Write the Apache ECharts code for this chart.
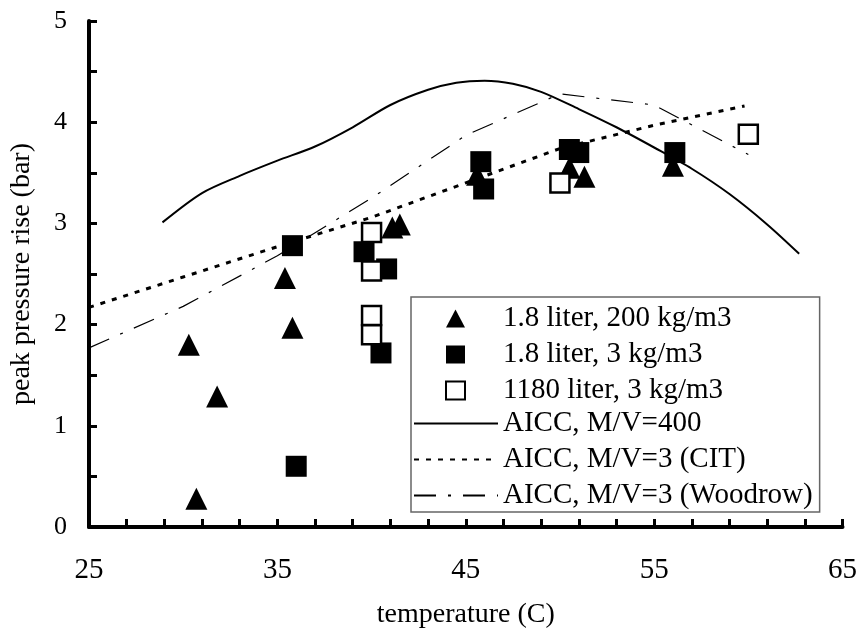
<!DOCTYPE html>
<html>
<head>
<meta charset="utf-8">
<script src="https://cdn.jsdelivr.net/npm/echarts@6/dist/echarts.min.js"></script>
<style>
  body { margin: 0; background: #fff; }
  #chart { width: 860px; height: 634px; }
</style>
</head>
<body>
<div id="chart"></div>
<script>
// [temperature (C), peak pressure rise (bar)]
var liter18Kg200 = [
  [30.3, 1.80], [31.8, 1.29], [30.7, 0.28], [35.8, 1.97], [35.4, 2.46],
  [41.1, 2.96], [41.5, 2.99], [45.6, 3.48], [50.5, 3.55], [51.3, 3.46], [56.0, 3.57]
]
var liter18Kg3 = [
  [35.8, 2.78], [36.0, 0.60], [39.6, 2.72], [40.8, 2.55], [40.5, 1.72],
  [45.8, 3.61], [45.95, 3.34], [50.5, 3.73], [51.0, 3.70], [56.1, 3.70]
]
var liter1180Kg3 = [
  [40.0, 2.91], [40.0, 2.53], [40.0, 2.09], [40.0, 1.90], [50.0, 3.40], [60.0, 3.88]
]
var aicc400 = [
  [28.9, 3.01], [31, 3.30], [33, 3.47], [35, 3.62], [37, 3.76], [39, 3.95],
  [41, 4.17], [43, 4.32], [44.5, 4.39], [46, 4.41], [47.5, 4.38], [49, 4.30], [51, 4.13],
  [53, 3.95], [55, 3.75], [57, 3.54], [59, 3.29], [61, 2.99], [62.7, 2.70]
]
var aiccCit = [
  [25, 2.17], [30, 2.47], [35, 2.77], [40, 3.06], [45, 3.40], [50, 3.74], [55, 3.97], [59.8, 4.16]
]
var aiccWoodrow = [
  [25, 1.77], [30, 2.18], [35, 2.68], [40, 3.25], [45, 3.87], [50, 4.28], [55, 4.17], [60, 3.68]
]
var seriesNames = [
  '1.8 liter, 200 kg/m3',
  '1.8 liter, 3 kg/m3',
  '1180 liter, 3 kg/m3',
  'AICC, M/V=400',
  'AICC, M/V=3 (CIT)',
  'AICC, M/V=3 (Woodrow)'
]

var serif = "'Liberation Serif', 'Times New Roman', serif"

var chart = echarts.init(document.getElementById('chart'))

function axisStyle() {
  return {
    axisLine: { lineStyle: { color: '#000', width: 4 } },
    axisTick: { inside: true, length: 8, lineStyle: { color: '#000', width: 3 } },
    minorTick: { show: true, length: 8, lineStyle: { color: '#000', width: 3 } },
    splitLine: { show: false },
    minorSplitLine: { show: false },
    nameTextStyle: { fontFamily: serif, fontSize: 28, color: '#000' }
  }
}

var xAxis = Object.assign(axisStyle(), {
  type: 'value',
  min: 25,
  max: 65,
  interval: 10,
  name: 'temperature (C)',
  nameLocation: 'middle',
  nameGap: 74,
  axisLabel: { margin: 29, fontFamily: serif, fontSize: 29, color: '#000' }
})
xAxis.minorTick.splitNumber = 5

var yAxis = Object.assign(axisStyle(), {
  type: 'value',
  min: 0,
  max: 5,
  interval: 1,
  name: 'peak pressure rise (bar)',
  nameLocation: 'middle',
  nameGap: 53,
  axisLabel: { margin: 22, fontFamily: serif, fontSize: 26, color: '#000' }
})
yAxis.minorTick.splitNumber = 2

var legendText = { fontFamily: serif, fontSize: 29, color: '#000' }

chart.setOption({
  animation: false,
  backgroundColor: '#fff',
  grid: { left: 89, right: 17, top: 21, bottom: 102 },
  xAxis: xAxis,
  yAxis: yAxis,
  legend: [
    // the curve entries; its tall top padding makes the frame hold the marker rows too
    {
      orient: 'vertical',
      left: 411,
      top: 297,
      padding: [112, 7, 2, 2],
      itemWidth: 84,
      itemHeight: 18,
      itemGap: 7,
      backgroundColor: '#fff',
      borderColor: '#666',
      borderWidth: 1.5,
      borderRadius: 0,
      textStyle: legendText,
      data: [
        { name: seriesNames[3], itemStyle: { opacity: 0 } },
        { name: seriesNames[4], itemStyle: { opacity: 0 } },
        { name: seriesNames[5], itemStyle: { opacity: 0 } }
      ]
    },
    // the marker entries, square icons
    {
      orient: 'vertical',
      left: 445,
      top: 304,
      padding: 0,
      z: 5,
      itemWidth: 19,
      itemHeight: 18,
      itemGap: 7,
      textStyle: Object.assign({ padding: [0, 0, 0, 33] }, legendText),
      data: [
        { name: seriesNames[0], icon: 'triangle' },
        { name: seriesNames[1], icon: 'rect' },
        { name: seriesNames[2], icon: 'rect' }
      ]
    }
  ],
  series: [
    {
      name: seriesNames[0],
      type: 'scatter',
      symbol: 'triangle',
      symbolSize: 22,
      z: 3,
      itemStyle: { color: '#000', opacity: 1 },
      data: liter18Kg200
    },
    {
      name: seriesNames[1],
      type: 'scatter',
      symbol: 'rect',
      symbolSize: 21,
      z: 4,
      itemStyle: { color: '#000', opacity: 1 },
      data: liter18Kg3
    },
    {
      name: seriesNames[2],
      type: 'scatter',
      symbol: 'rect',
      symbolSize: 19,
      z: 5,
      itemStyle: { color: '#fff', borderColor: '#000', borderWidth: 2.5, opacity: 1 },
      data: liter1180Kg3
    },
    {
      name: seriesNames[3],
      type: 'line',
      smooth: 0.3,
      symbol: 'none',
      z: 2,
      lineStyle: { color: '#000', width: 2 },
      itemStyle: { color: '#000' },
      data: aicc400
    },
    {
      name: seriesNames[4],
      type: 'line',
      symbol: 'none',
      z: 2,
      lineStyle: { color: '#000', width: 3, type: [5, 7] },
      itemStyle: { color: '#000' },
      data: aiccCit
    },
    {
      name: seriesNames[5],
      type: 'line',
      symbol: 'none',
      z: 2,
      lineStyle: { color: '#000', width: 1.2, type: [22, 12, 3, 12] },
      itemStyle: { color: '#000' },
      data: aiccWoodrow
    }
  ]
})
</script>
</body>
</html>
